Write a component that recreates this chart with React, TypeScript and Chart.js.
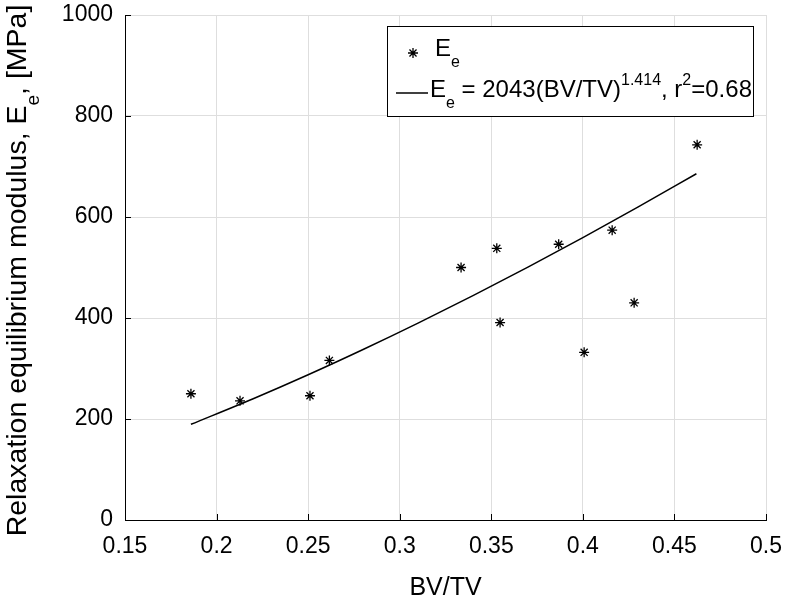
import React, { useEffect, useRef } from "react";
import { Chart, registerables } from "chart.js";

Chart.register(...registerables);

const FONT = "'Liberation Sans', Arial, Helvetica, sans-serif";

// measured samples
const bvtv = [0.186, 0.2128, 0.251, 0.2616, 0.3335, 0.353, 0.3548, 0.3868, 0.4007, 0.416, 0.428, 0.4624];
const ee = [250, 236, 246, 316, 500, 538, 391, 546, 332, 574, 430, 743];

// power-law fit curve
const fitBvtv = [0.186, 0.22, 0.25, 0.28, 0.31, 0.34, 0.37, 0.4, 0.43, 0.462];
const fitEe = [189.5, 240.2, 287.7, 337.7, 389.9, 444.4, 500.8, 559.2, 619.4, 685.6];

const xTicks = [0.15, 0.2, 0.25, 0.3, 0.35, 0.4, 0.45, 0.5];
const yTicks = [0, 200, 400, 600, 800, 1000];

const xTitle = "BV/TV";
type Run = { t: string; k: "n" | "sub" | "sup" };
const yTitleRuns: Run[] = [
  { t: "Relaxation equilibrium modulus, E", k: "n" },
  { t: "e", k: "sub" },
  { t: ", [MPa]", k: "n" },
];
const legendRuns1: Run[] = [
  { t: "E", k: "n" },
  { t: "e", k: "sub" },
];
const legendRuns2: Run[] = [
  { t: "E", k: "n" },
  { t: "e", k: "sub" },
  { t: " = 2043(BV/TV)", k: "n" },
  { t: "1.414", k: "sup" },
  { t: ", r", k: "n" },
  { t: "2", k: "sup" },
  { t: "=0.68", k: "n" },
];

function runFont(size: number, k: string) {
  const s = k === "n" ? size : Math.round(size * 0.67);
  return `${s}px ${FONT}`;
}
function runOffset(size: number, k: string) {
  if (k === "sub") return size * 0.44;
  if (k === "sup") return -size * 0.5;
  return 0;
}
function measureRuns(ctx: CanvasRenderingContext2D, runs: Run[], size: number) {
  let w = 0;
  for (const r of runs) {
    ctx.font = runFont(size, r.k);
    w += ctx.measureText(r.t).width;
  }
  return w;
}
function drawRuns(ctx: CanvasRenderingContext2D, runs: Run[], x: number, y: number, size: number) {
  let cx = x;
  ctx.textBaseline = "alphabetic";
  ctx.textAlign = "left";
  for (const r of runs) {
    ctx.font = runFont(size, r.k);
    ctx.fillText(r.t, cx, y + runOffset(size, r.k));
    cx += ctx.measureText(r.t).width;
  }
  return cx - x;
}
function drawAsterisk(ctx: CanvasRenderingContext2D, x: number, y: number, r: number) {
  ctx.beginPath();
  ctx.moveTo(x - r, y);
  ctx.lineTo(x + r, y);
  ctx.moveTo(x, y - r);
  ctx.lineTo(x, y + r);
  const d = r * 0.7071;
  ctx.moveTo(x - d, y - d);
  ctx.lineTo(x + d, y + d);
  ctx.moveTo(x - d, y + d);
  ctx.lineTo(x + d, y - d);
  ctx.stroke();
}

const decorPlugin = {
  id: "decor",
  beforeDatasetsDraw(chart: any) {
    const ctx: CanvasRenderingContext2D = chart.ctx;
    const xs = chart.scales.x;
    const ys = chart.scales.y;
    const area = chart.chartArea;
    ctx.save();
    ctx.strokeStyle = "#000";
    ctx.lineWidth = 1;
    ctx.beginPath();
    for (const v of xTicks) {
      const px = Math.round(xs.getPixelForValue(v)) + 0.5;
      ctx.moveTo(px, area.bottom);
      ctx.lineTo(px, area.bottom - 6);
    }
    for (const v of yTicks) {
      const py = Math.round(ys.getPixelForValue(v)) + 0.5;
      ctx.moveTo(area.left, py);
      ctx.lineTo(area.left + 6, py);
    }
    ctx.stroke();
    ctx.restore();
  },
  afterDraw(chart: any) {
    const ctx: CanvasRenderingContext2D = chart.ctx;
    const area = chart.chartArea;
    ctx.save();
    ctx.fillStyle = "#000";
    // x title
    ctx.font = `25px ${FONT}`;
    ctx.textAlign = "center";
    ctx.textBaseline = "alphabetic";
    ctx.fillText(xTitle, (area.left + area.right) / 2, 595);
    // y title
    const ySize = 28.5;
    const tw = measureRuns(ctx, yTitleRuns, ySize);
    ctx.save();
    ctx.translate(26, (area.top + area.bottom) / 2 + 3);
    ctx.rotate(-Math.PI / 2);
    drawRuns(ctx, yTitleRuns, -tw / 2, 0, ySize);
    ctx.restore();

    // legend
    const lx = 387, ly = 26, lw = 366, lh = 90;
    ctx.fillStyle = "#fff";
    ctx.fillRect(lx, ly, lw, lh);
    ctx.strokeStyle = "#000";
    ctx.lineWidth = 1;
    ctx.strokeRect(lx + 0.5, ly + 0.5, lw, lh);
    ctx.fillStyle = "#000";
    ctx.lineWidth = 1.3;
    drawAsterisk(ctx, 413, 53, 5);
    drawRuns(ctx, legendRuns1, 435, 56, 24);
    ctx.lineWidth = 1.5;
    ctx.beginPath();
    ctx.moveTo(396, 93);
    ctx.lineTo(428, 93);
    ctx.stroke();
    drawRuns(ctx, legendRuns2, 430, 97, 24);
    ctx.restore();
  },
};

export default function App() {
  const ref = useRef<HTMLCanvasElement | null>(null);
  useEffect(() => {
    if (!ref.current) return;
    const chart = new Chart(ref.current, {
      type: "scatter",
      data: {
        datasets: [
          {
            label: "Ee",
            data: bvtv.map((x, i) => ({ x, y: ee[i] })),
            pointStyle: "star",
            pointRadius: 5,
            pointBorderWidth: 1.3,
            borderColor: "#000",
            backgroundColor: "#000",
            showLine: false,
          },
          {
            label: "fit",
            type: "line",
            data: fitBvtv.map((x, i) => ({ x, y: fitEe[i] })),
            borderColor: "#000",
            borderWidth: 1.5,
            pointRadius: 0,
            fill: false,
            cubicInterpolationMode: "monotone",
          } as any,
        ],
      },
      options: {
        responsive: false,
        animation: false,
        layout: { padding: { left: 0, right: 20, top: 15, bottom: 0 } },
        plugins: { legend: { display: false }, tooltip: { enabled: false } },
        scales: {
          x: {
            type: "linear",
            min: 0.15,
            max: 0.5,
            afterBuildTicks: (s: any) => {
              s.ticks = xTicks.map((v) => ({ value: v }));
            },
            afterFit: (s: any) => {
              s.height = 84;
              s.paddingLeft = 0;
              s.paddingRight = 0;
            },
            grid: { color: "#dedede", lineWidth: 1, drawTicks: false },
            border: { color: "#000", width: 1 },
            ticks: {
              padding: 13,
              color: "#000",
              font: { family: FONT, size: 23 },
              maxRotation: 0,
              autoSkip: false,
              callback: (v: any) => String(v),
            },
          },
          y: {
            type: "linear",
            min: 0,
            max: 1000,
            afterBuildTicks: (s: any) => {
              s.ticks = yTicks.map((v) => ({ value: v }));
            },
            afterFit: (s: any) => {
              s.width = 125;
              s.paddingTop = 0;
              s.paddingBottom = 0;
            },
            grid: { color: "#dedede", lineWidth: 1, drawTicks: false },
            border: { color: "#000", width: 1 },
            ticks: {
              padding: 12,
              color: "#000",
              font: { family: FONT, size: 23 },
              autoSkip: false,
              callback: (v: any) => String(v),
            },
          },
        },
      },
      plugins: [decorPlugin],
    } as any);
    return () => chart.destroy();
  }, []);
  return (
    <div style={{ position: "absolute", left: 0, top: 0, width: 786, height: 604, background: "#fff" }}>
      <canvas ref={ref} width={786} height={604} style={{ display: "block", width: 786, height: 604 }} />
    </div>
  );
}
